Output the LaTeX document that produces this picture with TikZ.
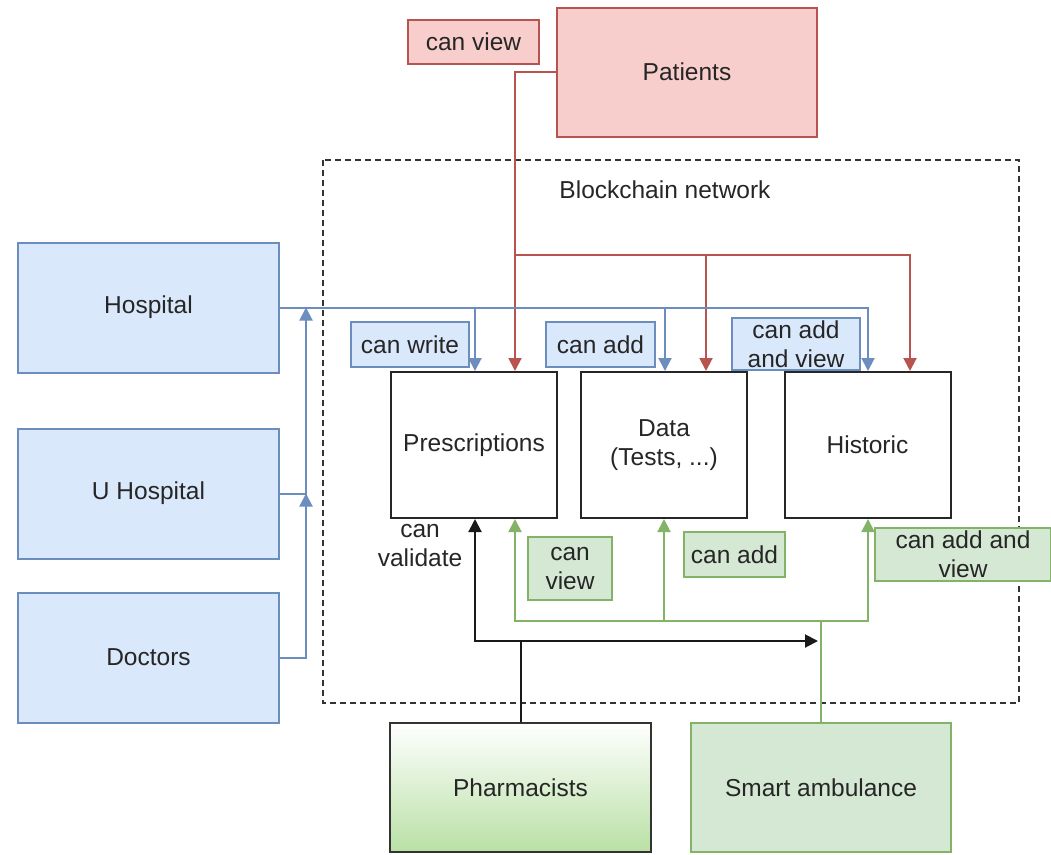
\documentclass[tikz,border=0pt]{standalone}
\usepackage{fontspec}
\setmainfont{Liberation Sans}
\usetikzlibrary{arrows.meta,calc}

\definecolor{bluefill}{HTML}{DAE8FC}
\definecolor{bluedraw}{HTML}{6C8EBF}
\definecolor{redfill}{HTML}{F8CECC}
\definecolor{reddraw}{HTML}{B85450}
\definecolor{greenfill}{HTML}{D5E8D4}
\definecolor{greendraw}{HTML}{82B366}
\definecolor{greendeep}{HTML}{B9E0A5}
\definecolor{ink}{HTML}{262626}

\tikzset{
  every node/.style={text=ink},
  bluebox/.style={draw=bluedraw, fill=bluefill, line width=2pt, minimum width=261pt, minimum height=130pt, inner sep=0pt},
  redbox/.style={draw=reddraw, fill=redfill, line width=2pt, minimum width=260pt, minimum height=129pt, inner sep=0pt},
  greenbox/.style={draw=greendraw, fill=greenfill, line width=2pt, minimum width=260pt, minimum height=129pt, inner sep=0pt},
  pharmbox/.style={draw=black!80, line width=2pt, top color=white, bottom color=greendeep, minimum width=261pt, minimum height=129pt, inner sep=0pt},
  databox/.style={draw=black!85, fill=white, line width=2pt, minimum width=166pt, minimum height=146pt, inner sep=0pt, align=center},
  bluetag/.style={draw=bluedraw, fill=bluefill, line width=2pt, inner sep=0pt, align=center},
  redtag/.style={draw=reddraw, fill=redfill, line width=2pt, inner sep=0pt, align=center},
  greentag/.style={draw=greendraw, fill=greenfill, line width=2pt, inner sep=0pt, align=center},
  tip/.style={-{Triangle[width=13pt,length=13pt]}},
  redline/.style={draw=reddraw, line width=2pt},
  blueline/.style={draw=bluedraw, line width=2pt},
  greenline/.style={draw=greendraw, line width=2pt},
  blackline/.style={draw=black!90, line width=2pt},
}

\begin{document}
\begin{tikzpicture}[x=1pt, y=-1pt, font=\fontsize{24.5}{29}\selectfont]
\useasboundingbox (0,0) rectangle (1051,854);

% blockchain network frame
\draw[black!80, line width=2pt, dash pattern=on 6pt off 4pt] (323,160) rectangle (1019,703);
\node (net) at (665,190) {Blockchain network};

% actors
\node[redbox] (pat) at (687,72) {Patients};
\node[bluebox] (hosp) at (148.5,307.5) {Hospital};
\node[bluebox] (uhosp) at (148.5,493.5) {U Hospital};
\node[bluebox] (doc) at (148.5,657.5) {Doctors};
\node[pharmbox] (pharm) at (520.5,787.5) {Pharmacists};
\node[greenbox] (amb) at (821,787.5) {Smart ambulance};

% ledger contents
\node[databox] (presc) at (474,445) {Prescriptions};
\node[databox] (data) at (664,445) {Data\\(Tests, ...)};
\node[databox] (hist) at (867.5,445) {Historic};

% junction points
\coordinate (rj) at (515,255);
\coordinate (rd) at (706,255);
\coordinate (rh) at (910,255);
\coordinate (bw) at (475,307.5);
\coordinate (bd) at (665,307.5);
\coordinate (bh) at (868,307.5);
\coordinate (bj) at (306,307.5);
\coordinate (gj) at (821,621);
\coordinate (gp) at (515,621);
\coordinate (gd) at (664,621);
\coordinate (gh) at (868,621);
\coordinate (kj) at (520.5,641);
\coordinate (kp) at (475,641);
\coordinate (ke) at (818,641);

% patients can view
\draw[redline, tip] (pat.west) -| (rj) -- (rj |- presc.north);
\draw[redline, tip] (rj) -- (rd) -- (rd |- data.north);
\draw[redline, tip] (rd) -- (rh) -- (rh |- hist.north);

% hospitals and doctors write / add
\draw[blueline, tip] (hosp.east) -- (bw) -- (bw |- presc.north);
\draw[blueline, tip] (bw) -- (bd) -- (bd |- data.north);
\draw[blueline, tip] (bd) -- (bh) -- (bh |- hist.north);
\draw[blueline, tip] (uhosp.east) -| (bj);
\draw[blueline, tip] (doc.east) -| (bj |- uhosp.east);

% smart ambulance
\draw[greenline, tip] (amb.north) -- (gj) -- (gp) -- (gp |- presc.south);
\draw[greenline, tip] (gd) -- (gd |- data.south);
\draw[greenline, tip] (gj) -- (gh) -- (gh |- hist.south);

% pharmacists
\draw[blackline, tip] (pharm.north) -- (kj) -- (kp) -- (kp |- presc.south);
\draw[blackline, tip] (kj) -- (ke);

% permission tags
\node[redtag, minimum width=131pt, minimum height=44pt] (tview) at (473.5,42) {can view};
\node[bluetag, minimum width=118pt, minimum height=45pt] (twrite) at (410,344.5) {can write};
\node[bluetag, minimum width=109pt, minimum height=45pt] (tadd) at (600.5,344.5) {can add};
\node[bluetag, minimum width=128pt, minimum height=52pt] (taddview) at (796,344) {can add\\and view};
\node[greentag, minimum width=84pt, minimum height=63pt] (gview) at (570,568.5) {can\\view};
\node[greentag, minimum width=101pt, minimum height=45pt] (gadd) at (734.5,554.5) {can add};
\node[greentag, minimum width=176pt, minimum height=53pt] (gaddview) at (963,554.5) {can add and\\view};
\node[align=center, inner sep=0pt] (tvalid) at (420,546) {can\\validate};
\end{tikzpicture}
\end{document}
